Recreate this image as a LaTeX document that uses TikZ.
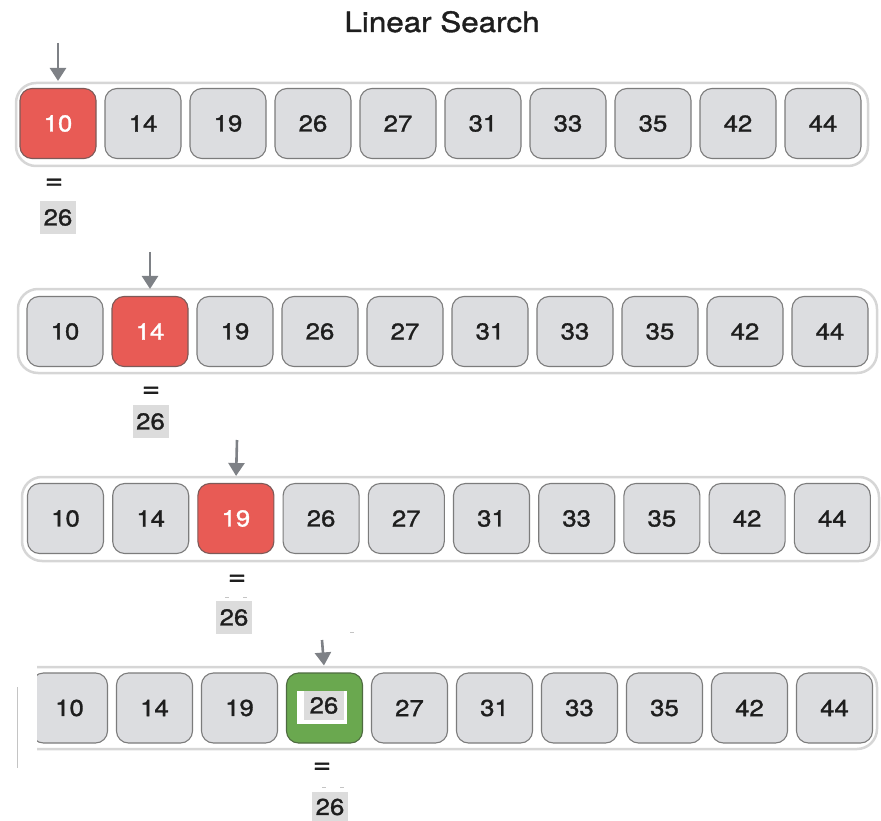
\documentclass[tikz,border=0pt]{standalone}
\usepackage{fontspec}
\setmainfont[FakeStretch=1.12,FakeBold=1.3]{TeX Gyre Heros}
\usetikzlibrary{arrows.meta}
\definecolor{cellfill}{HTML}{DCDDE0}
\definecolor{celldraw}{HTML}{7C7C7C}
\definecolor{redfill}{HTML}{E85B55}
\definecolor{reddraw}{HTML}{7D5A58}
\definecolor{greenfill}{HTML}{6AA84F}
\definecolor{greendraw}{HTML}{4E6B40}
\definecolor{boxline}{HTML}{D6D6D6}
\definecolor{arrowgray}{HTML}{7E8186}
\definecolor{labelbg}{HTML}{DCDCDC}
\definecolor{txt}{HTML}{1E1E1E}
\definecolor{faint}{HTML}{C4C4C4}
\begin{document}
\begin{tikzpicture}[x=1pt,y=-1pt,
  cellbox/.style={rectangle, rounded corners=12pt, minimum width=76pt, minimum height=70pt,
    inner sep=0pt, fill=cellfill, draw=celldraw, line width=1.1pt, text=txt,
    font=\fontsize{23}{26}\selectfont},
  hitred/.style={cellbox, fill=redfill, draw=reddraw, text=white},
  hitgreen/.style={cellbox, fill=greenfill, draw=greendraw},
  rowbox/.style={draw=boxline, line width=2.5pt, fill=white, rounded corners=20pt},
  pointer/.style={draw=arrowgray, line width=2.6pt, -{Triangle[width=16pt,length=13pt]}, shorten >=7pt},
  eqlabel/.style={font=\fontsize{28}{30}\selectfont, text=txt, inner sep=0pt},
  keylabel/.style={fill=labelbg, minimum width=36pt, minimum height=33pt, inner sep=0pt,
    font=\fontsize{23}{26}\selectfont, text=txt},
  faintmark/.style={draw=faint, line width=1pt}
]
\useasboundingbox (0,0) rectangle (881,821);

% title
\node[anchor=base, font=\fontsize{28}{32}\selectfont, text=txt, inner sep=0pt] (title) at (442,32) {Linear Search};

% ---------- row 1 ----------
\draw[rowbox] (16,83) rectangle (868,166);
\foreach \v [count=\i from 0] in {10,14,19,26,27,31,33,35,42,44} {
  \ifnum\i=0
    \node[hitred] (r1c\i) at ({58+85*\i},123.5) {\v};
  \else
    \node[cellbox] (r1c\i) at ({58+85*\i},123.5) {\v};
  \fi
}
\coordinate (p1) at (58,43);
\draw[pointer] (p1) -- (r1c0.north);
\node[eqlabel] (e1) at (54,184) {=};
\node[keylabel] (k1) at (58,217.5) {26};

% ---------- row 2 ----------
\draw[rowbox] (18,289) rectangle (877,373);
\foreach \v [count=\i from 0] in {10,14,19,26,27,31,33,35,42,44} {
  \ifnum\i=1
    \node[hitred] (r2c\i) at ({65+85*\i},331.5) {\v};
  \else
    \node[cellbox] (r2c\i) at ({65+85*\i},331.5) {\v};
  \fi
}
\coordinate (p2) at (150,252);
\draw[pointer] (p2) -- (r2c1.north);
\node[eqlabel] (e2) at (151,392) {=};
\node[keylabel] (k2) at (150.5,421.5) {26};

% ---------- row 3 ----------
\draw[rowbox] (22,477) rectangle (879,561);
\foreach \v [count=\i from 0] in {10,14,19,26,27,31,33,35,42,44} {
  \ifnum\i=2
    \node[hitred] (r3c\i) at ({65.5+85.2*\i},518.5) {\v};
  \else
    \node[cellbox] (r3c\i) at ({65.5+85.2*\i},518.5) {\v};
  \fi
}
\coordinate (p3) at (237,440);
\draw[pointer] (p3) -- (r3c2.north);
\node[eqlabel] (e3) at (237,580) {=};
\node[keylabel] (k3) at (234,617.5) {26};
\draw[faintmark] (225,597) -- (229,597);
\draw[faintmark] (243,597) -- (247,597);

% ---------- row 4 ----------
\begin{scope}
\clip (37,600) rectangle (881,760);
\draw[rowbox] (10,667) rectangle (877,749);
\foreach \v [count=\i from 0] in {10,14,19,26,27,31,33,35,42,44} {
  \ifnum\i=3
    \node[hitgreen] (r4c\i) at ({69.5+85*\i},708) {};
  \else
    \node[cellbox] (r4c\i) at ({69.5+85*\i},708) {\v};
  \fi
}
\end{scope}
\node[fill=white, minimum width=50pt, minimum height=33pt, inner sep=0pt] (g4w) at (322,707.5) {};
\node[keylabel, minimum width=40pt, minimum height=29pt] (g4k) at (324,705.5) {26};
\coordinate (p4) at (322,640);
\draw[pointer] (p4) -- (r4c3.north);
\node[eqlabel] (e4) at (322,768) {=};
\node[keylabel, minimum height=30pt] (k4) at (330,807) {26};
\draw[faintmark] (322,787) -- (326,787);
\draw[faintmark] (340,787) -- (344,787);
\draw[faintmark] (350,632) -- (354,632);
\draw[faintmark] (17,687) -- (17,768);
\end{tikzpicture}
\end{document}
